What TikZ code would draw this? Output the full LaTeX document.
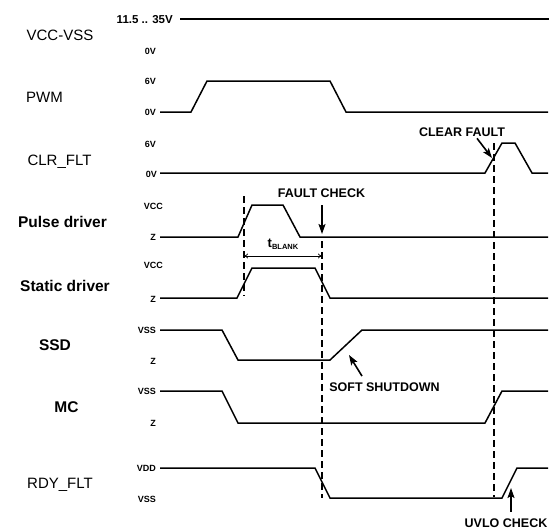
\documentclass[tikz,border=0pt]{standalone}
\usepackage{fontspec}
\setmainfont{Liberation Sans}
\usetikzlibrary{arrows.meta}
\begin{document}
\begin{tikzpicture}[x=1pt,y=-1pt,
  sig/.style={line width=1.5pt, line join=miter},
  vline/.style={line width=1.2pt, dash pattern=on 7pt off 4pt},
  namelbl/.style={font=\fontsize{15}{15}\selectfont, anchor=base, inner sep=0},
  namebold/.style={font=\fontsize{15.5}{15}\selectfont\bfseries, anchor=base, inner sep=0},
  lvl/.style={font=\fontsize{9}{9}\selectfont\bfseries, anchor=base east, inner sep=0},
  note/.style={font=\fontsize{12.5}{12}\selectfont\bfseries, anchor=base, inner sep=0},
  callout/.style={line width=1.6pt, -{Stealth[length=10pt,width=7pt,inset=2pt]}},
  span/.style={line width=0.7pt, {To[length=4pt,width=5pt]}-{To[length=4pt,width=5pt]}},
]
\useasboundingbox (0,0) rectangle (551,531);

% signal names
\node[namelbl]  (nVCC) at (60,40)  {VCC-VSS};
\node[namelbl]  (nPWM) at (44.5,102) {PWM};
\node[namelbl]  (nCLR) at (59.5,165) {CLR\_FLT};
\node[namebold] (nPUL) at (62.5,227) {Pulse driver};
\node[namebold] (nSTA) at (65,291) {Static driver};
\node[namebold] (nSSD) at (55,350) {SSD};
\node[namebold] (nMC)  at (66.5,412) {MC};
\node[namelbl]  (nRDY) at (60,488) {RDY\_FLT};

% level labels
\node[lvl] (lV35) at (173,23) {\fontsize{11.5}{11}\selectfont 11.5 .. 35V};
\node[lvl] (lV0)  at (156,54) {0V};
\node[lvl] (lP6)  at (156,84) {6V};
\node[lvl] (lP0)  at (156,115) {0V};
\node[lvl] (lC6)  at (156,147) {6V};
\node[lvl] (lC0)  at (157,177) {0V};
\node[lvl] (lPH)  at (163,209) {VCC};
\node[lvl] (lPZ)  at (156,240) {Z};
\node[lvl] (lSH)  at (163,268) {VCC};
\node[lvl] (lSZ)  at (156,302) {Z};
\node[lvl] (lDH)  at (156,333) {VSS};
\node[lvl] (lDZ)  at (156,364) {Z};
\node[lvl] (lMH)  at (156,394) {VSS};
\node[lvl] (lMZ)  at (156,426) {Z};
\node[lvl] (lRH)  at (156,471) {VDD};
\node[lvl] (lRL)  at (156,502) {VSS};

% waveforms
\draw[line width=2.4pt] (180,19) -- (549,19);
\draw[sig] (160,112) -- (191,112) -- (207,81) -- (330,81) -- (346,112) -- (548,112);
\draw[sig] (160,173) -- (485,173) -- (502,143) -- (515,143) -- (532,173) -- (548,173);
\draw[sig] (160,237) -- (238,237) -- (252,205) -- (283,205) -- (300,237) -- (548,237);
\draw[sig] (160,298) -- (237,298) -- (252,268) -- (315,268) -- (330,298) -- (548,298);
\draw[sig] (160,330) -- (222,330) -- (238,360) -- (330,360) -- (362,330) -- (548,330);
\draw[sig] (160,391) -- (222,391) -- (238,423) -- (485,423) -- (502,391) -- (548,391);
\draw[sig] (160,468) -- (315,468) -- (330,498) -- (502,498) -- (517,468) -- (548,468);

% dashed markers
\coordinate (d1t) at (244,196); \coordinate (d1b) at (244,296);
\coordinate (d2t) at (322,241); \coordinate (d2b) at (322,498);
\coordinate (d3t) at (494,143); \coordinate (d3b) at (494,497);
\draw[vline] (d1t) -- (d1b);
\draw[vline] (d2t) -- (d2b);
\draw[vline] (d3t) -- (d3b);

% t_BLANK
\coordinate (tbL) at (244,256); \coordinate (tbR) at (322,256);
\draw[span] (tbL) -- (tbR);
\node[font=\fontsize{13}{13}\selectfont\bfseries, anchor=base, inner sep=0] (tb) at (283,247)
  {t\raisebox{-2pt}{\fontsize{7.5}{7}\selectfont BLANK}};

% callouts
\node[note] (fc) at (321.5,197) {FAULT CHECK};
\node[note] (cf) at (462,136) {CLEAR FAULT};
\node[note] (ss) at (384.5,391) {SOFT SHUTDOWN};
\node[note] (uv) at (506,527.5) {UVLO CHECK};
\coordinate (fcTip) at (322,234);
\coordinate (cfTip) at (492,158);
\coordinate (ssTip) at (349,355);
\coordinate (uvTip) at (511,488);
\draw[callout] ([shift={(0.5,8)}]fc.south) -- (fcTip);
\draw[callout] ([shift={(15,2)}]cf.south) -- (cfTip);
\draw[callout] ([shift={(-22.5,-6)}]ss.north) -- (ssTip);
\draw[callout] ([shift={(5,-7)}]uv.north) -- (uvTip);
\end{tikzpicture}
\end{document}
